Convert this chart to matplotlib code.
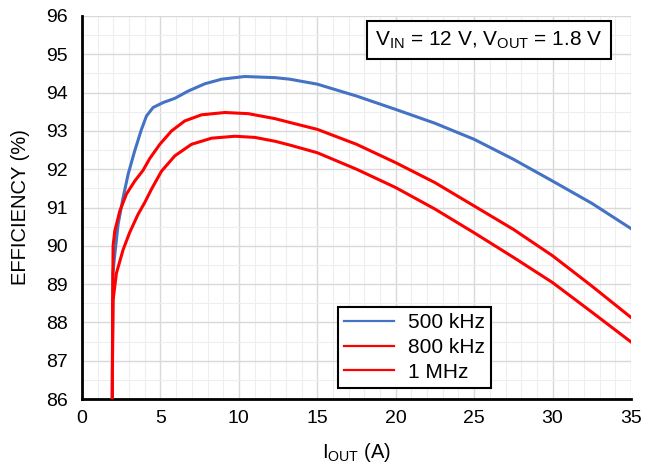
import matplotlib.pyplot as plt
from matplotlib.ticker import MultipleLocator

plt.rcParams['font.family'] = ['Liberation Sans', 'DejaVu Sans']
plt.rcParams['mathtext.fontset'] = 'custom'
plt.rcParams['mathtext.rm'] = 'Liberation Sans'

# curvas (corriente de salida en A, eficiencia en %)
i_500k = [1.93, 1.95, 1.97, 2.09, 2.30, 2.62, 2.94, 3.36, 3.79, 4.11, 4.53, 5.17, 5.92,
          6.77, 7.83, 8.9, 10.38, 12.3, 13.25, 15, 17.5, 20, 22.5, 25, 27.5, 30,
          32.5, 35]
eff_500k = [86.0, 87.8, 89.3, 89.78, 90.56, 91.26, 91.87, 92.48, 93.04, 93.39, 93.61,
            93.74, 93.85, 94.04, 94.23, 94.35, 94.42, 94.39, 94.35, 94.22, 93.91,
            93.56, 93.2, 92.78, 92.26, 91.69, 91.11, 90.45]

i_800k = [1.93, 1.95, 1.98, 2.09, 2.41, 2.83, 3.36, 3.89, 4.32, 4.96, 5.71, 6.55,
          7.62, 9.11, 10.6, 12.3, 13.25, 15, 17.5, 20, 22.5, 25, 27.5, 30, 32.5, 35]
eff_800k = [86.0, 88.3, 90.0, 90.39, 90.91, 91.35, 91.69, 91.97, 92.28, 92.65, 93.0,
            93.26, 93.42, 93.48, 93.45, 93.32, 93.22, 93.04, 92.65, 92.17, 91.65,
            91.04, 90.43, 89.74, 88.95, 88.13]

i_1m = [1.93, 1.95, 1.98, 2.19, 2.62, 3.04, 3.57, 4.0, 4.43, 5.07, 5.92, 6.98, 8.26,
        9.75, 11.02, 12.3, 13.25, 15, 17.5, 20, 22.5, 25, 27.5, 30, 32.5, 35]
eff_1m = [86.0, 87.4, 88.58, 89.28, 89.9, 90.35, 90.82, 91.13, 91.48, 91.95, 92.35,
          92.65, 92.81, 92.86, 92.83, 92.73, 92.63, 92.43, 92.0, 91.52, 90.96, 90.34,
          89.7, 89.04, 88.27, 87.49]

fig = plt.figure(figsize=(6.52, 4.70), dpi=100)
ax = fig.add_axes([0.1258, 0.151, 0.842, 0.815])

ax.plot(i_500k, eff_500k, color='#4472C4', lw=2.2, label='500 kHz', zorder=3,
        solid_joinstyle='round')
ax.plot(i_800k, eff_800k, color='#FF0000', lw=2.2, label='800 kHz', zorder=3,
        solid_joinstyle='round')
ax.plot(i_1m, eff_1m, color='#FF0000', lw=2.2, label='1 MHz', zorder=3,
        solid_joinstyle='round')

ax.set_xlim(0, 35)
ax.set_ylim(86, 96)
ax.xaxis.set_major_locator(MultipleLocator(5))
ax.xaxis.set_minor_locator(MultipleLocator(1))
ax.yaxis.set_major_locator(MultipleLocator(1))
ax.yaxis.set_minor_locator(MultipleLocator(0.5))
ax.grid(which='major', color='#d9d9d9', lw=1.0)
ax.grid(which='minor', color='#eeeeee', lw=0.8)
ax.set_axisbelow(True)
ax.tick_params(which='both', length=0, labelsize=14)
ax.tick_params(axis='y', pad=10)
ax.tick_params(axis='x', pad=8)

for s in ['top', 'right']:
    ax.spines[s].set_visible(False)
for s in ['left', 'bottom']:
    ax.spines[s].set_linewidth(2)
    ax.spines[s].set_color('black')

ax.set_xlabel(r'$\mathregular{I_{OUT}}$ (A)', fontsize=14.5, labelpad=10)
ax.set_ylabel('EFFICIENCY (%)', fontsize=14.5, labelpad=12)

ax.text(0.741, 0.937, r'$\mathregular{V_{IN}}$ = 12 V, $\mathregular{V_{OUT}}$ = 1.8 V',
        transform=ax.transAxes, ha='center', va='center', fontsize=15,
        bbox=dict(boxstyle='square,pad=0.4', fc='white', ec='black', lw=1.5))

leg = ax.legend(loc='lower left', bbox_to_anchor=(0.466, 0.029), fontsize=15,
                handlelength=2.4, fancybox=False, framealpha=1, edgecolor='black',
                borderaxespad=0, borderpad=0.3, labelspacing=0.28, handletextpad=0.65)
leg.get_frame().set_linewidth(1.5)
for line in leg.get_lines():
    line.set_linewidth(1.6)

fig.savefig('out.png', dpi=100)
